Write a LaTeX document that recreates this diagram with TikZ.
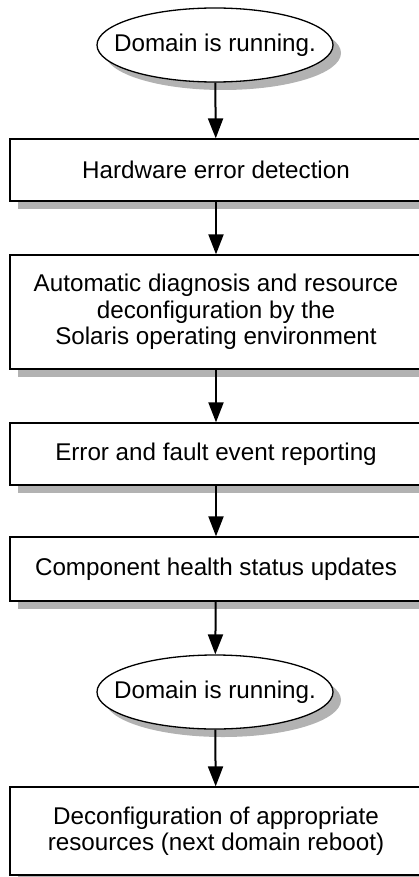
\documentclass[tikz,border=0pt]{standalone}
\usepackage{fontspec}
\setmainfont{Liberation Sans}
\usetikzlibrary{shapes.geometric,shadows,arrows.meta}

\begin{document}
\begin{tikzpicture}[x=0.5pt,y=-0.5pt,
        font=\fontsize{12.1}{13.2}\selectfont,
        procbox/.style={draw, line width=0.65pt, fill=white, rectangle, minimum width=206pt, align=center,
            drop shadow={shadow xshift=4pt, shadow yshift=-4pt, fill=black!30, opacity=1}},
        stateoval/.style={draw, line width=0.65pt, fill=white, ellipse, minimum width=118pt, minimum height=37pt,
            inner xsep=-9pt, inner ysep=0pt,
            drop shadow={shadow xshift=4pt, shadow yshift=-4pt, fill=black!30, opacity=1}},
        flowarrow/.style={line width=1pt, -{Triangle[length=10pt,width=7.5pt]}}]
                \useasboundingbox (0,0) rectangle (418,877);

                \node[stateoval] (run1) at (215,45) {Domain is running.};
                \node[procbox, minimum height=31pt] (hw) at (216,170) {Hardware error detection};
                \node[procbox, minimum height=57pt] (diag) at (216,312) {Automatic diagnosis and resource\\deconfiguration by the\\Solaris operating environment};
                \node[procbox, minimum height=31pt] (err) at (216,454) {Error and fault event reporting};
                \node[procbox, minimum height=32pt] (health) at (216,569) {Component health status updates};
                \node[stateoval] (run2) at (215,692) {Domain is running.};
                \node[procbox, minimum height=44pt] (deconf) at (216,831) {Deconfiguration of appropriate\\resources (next domain reboot)};

                \draw[flowarrow] (run1) to (hw); \draw[flowarrow] (hw) to (diag); \draw[flowarrow] (diag) to (err);
                \draw[flowarrow] (err) to (health); \draw[flowarrow] (health) to (run2); \draw[flowarrow] (run2) to (deconf);
            \end{tikzpicture}
\end{document}
